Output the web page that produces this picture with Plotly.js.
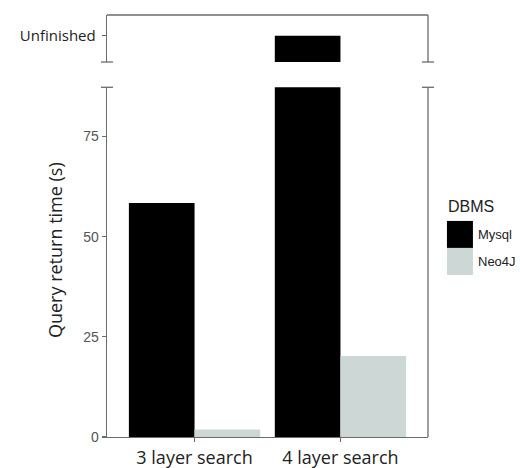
<!DOCTYPE html>
<html>
<head>
<meta charset="utf-8">
<script src="https://cdn.plot.ly/plotly-3.0.1.min.js"></script>
<style>html,body{margin:0;padding:0;background:#fff;}#chart{width:520px;height:468px;}</style>
</head>
<body>
<div id="chart"></div>
<script>
// ---- data ----
const categories = ["3 layer search", "4 layer search"];
const seriesNames = ["Mysql", "Neo4J"];
const mysqlTimes = [58.4, null];          // seconds (null = did not finish)
const mysqlUnfinished = [false, true];    // query never finished
const neo4jTimes = [1.9, 20.2];           // seconds
const yTickVals = [0, 25, 50, 75];
const unfinishedLabel = "Unfinished";
const legendTitle = "DBMS";
const yTitle = "Query return time (s)";

// ---- style ----
const colors = ["#000000", "#cdd7d6"];
const axisColor = "#6b6b6b";
const lowerMax = 87.3;        // visible top of the lower panel
const unfinishedLevel = 0.56; // level of the "Unfinished" tick in the upper panel
const lowerTop = 0.8287, upperBottom = 0.8886;

// lower panel: unfinished bars run past the break
const mysqlLower = mysqlTimes.map((v, i) => mysqlUnfinished[i] ? lowerMax * 2 : v);
const mysqlUpper = mysqlUnfinished.map(u => u ? unfinishedLevel : null);

const traces = [
  {type: "bar", x: categories, y: mysqlLower, name: seriesNames[0],
   marker: {color: colors[0]}, xaxis: "x", yaxis: "y", hoverinfo: "skip"},
  {type: "bar", x: categories, y: neo4jTimes, name: seriesNames[1],
   marker: {color: colors[1]}, xaxis: "x", yaxis: "y", hoverinfo: "skip"},
  {type: "bar", x: categories, y: mysqlUpper, name: seriesNames[0],
   marker: {color: colors[0]}, xaxis: "x2", yaxis: "y2", width: 0.45, offset: -0.45,
   hoverinfo: "skip"}
];

const line = {color: axisColor, width: 1.3};
const shapes = [
  {type: "line", xref: "paper", yref: "paper", x0: 1, x1: 1, y0: 0, y1: lowerTop, line},
  {type: "line", xref: "paper", yref: "paper", xsizemode: "pixel", xanchor: 0, x0: -6, x1: 6, y0: lowerTop, y1: lowerTop, line},
  {type: "line", xref: "paper", yref: "paper", xsizemode: "pixel", xanchor: 1, x0: -6, x1: 6, y0: lowerTop, y1: lowerTop, line},
  {type: "line", xref: "paper", yref: "paper", x0: 1, x1: 1, y0: upperBottom, y1: 1, line},
  {type: "line", xref: "paper", yref: "paper", x0: 0, x1: 1, y0: 1, y1: 1, line},
  {type: "line", xref: "paper", yref: "paper", xsizemode: "pixel", xanchor: 0, x0: -6, x1: 6, y0: upperBottom, y1: upperBottom, line},
  {type: "line", xref: "paper", yref: "paper", xsizemode: "pixel", xanchor: 1, x0: -6, x1: 6, y0: upperBottom, y1: upperBottom, line}
];

const annotations = [
  {xref: "paper", yref: "paper", x: -0.162, y: 0.443, xanchor: "center", yanchor: "middle",
   text: yTitle, textangle: -90, showarrow: false,
   font: {family: "Open Sans", size: 18, color: "#222222"}},
  {xref: "paper", yref: "paper", x: 1.056, y: 0.547, xanchor: "left", yanchor: "middle",
   text: legendTitle, showarrow: false,
   font: {family: "Liberation Sans Narrow, Liberation Sans, Arial", size: 16, color: "#222222"}}
];
seriesNames.forEach((n, i) => {
  const yTop = 0.512 - i * 0.064;
  shapes.push({type: "rect", xref: "paper", yref: "paper", x0: 1.059, x1: 1.140,
    y0: yTop - 0.064, y1: yTop, fillcolor: colors[i], line: {width: 0}});
  annotations.push({xref: "paper", yref: "paper", x: 1.150, y: yTop - 0.032,
    xanchor: "left", yanchor: "middle", text: n, showarrow: false,
    font: {family: "Liberation Sans Narrow, Liberation Sans, Arial", size: 13, color: "#222222"}});
});

const layout = {
  width: 520, height: 468,
  margin: {l: 107, r: 92, t: 15, b: 31},
  paper_bgcolor: "#fff", plot_bgcolor: "#fff",
  showlegend: false,
  barmode: "group", bargap: 0.1, bargroupgap: 0,
  xaxis: {domain: [0, 1], range: [-0.6, 1.6], anchor: "y", type: "category",
    showline: true, linecolor: axisColor, linewidth: 1.3,
    ticks: "outside", ticklen: 4, tickcolor: axisColor, tickwidth: 1.3,
    tickfont: {family: "Open Sans", size: 18, color: "#222222"},
    showgrid: false, zeroline: false, fixedrange: true},
  xaxis2: {domain: [0, 1], range: [-0.6, 1.6], anchor: "y2", type: "category",
    matches: "x", showticklabels: false, ticks: "", showline: false,
    showgrid: false, zeroline: false},
  yaxis: {domain: [0, lowerTop], range: [0, lowerMax], anchor: "x",
    tickvals: yTickVals, ticks: "outside", ticklen: 4, tickcolor: axisColor, tickwidth: 1.3,
    tickfont: {family: "Liberation Sans Narrow, Liberation Sans, Arial", size: 14, color: "#555555"},
    showline: true, linecolor: axisColor, linewidth: 1.3,
    showgrid: false, zeroline: false},
  yaxis2: {domain: [upperBottom, 1], range: [0, 1], anchor: "x2",
    tickvals: [unfinishedLevel], ticktext: [unfinishedLabel],
    ticks: "outside", ticklen: 4, tickcolor: axisColor, tickwidth: 1.3,
    ticklabelstandoff: 3,
    tickfont: {family: "Open Sans", size: 15, color: "#222222"},
    showline: true, linecolor: axisColor, linewidth: 1.3,
    showgrid: false, zeroline: false},
  shapes, annotations
};

Plotly.newPlot("chart", traces, layout, {staticPlot: true, displayModeBar: false});
</script>
</body>
</html>
